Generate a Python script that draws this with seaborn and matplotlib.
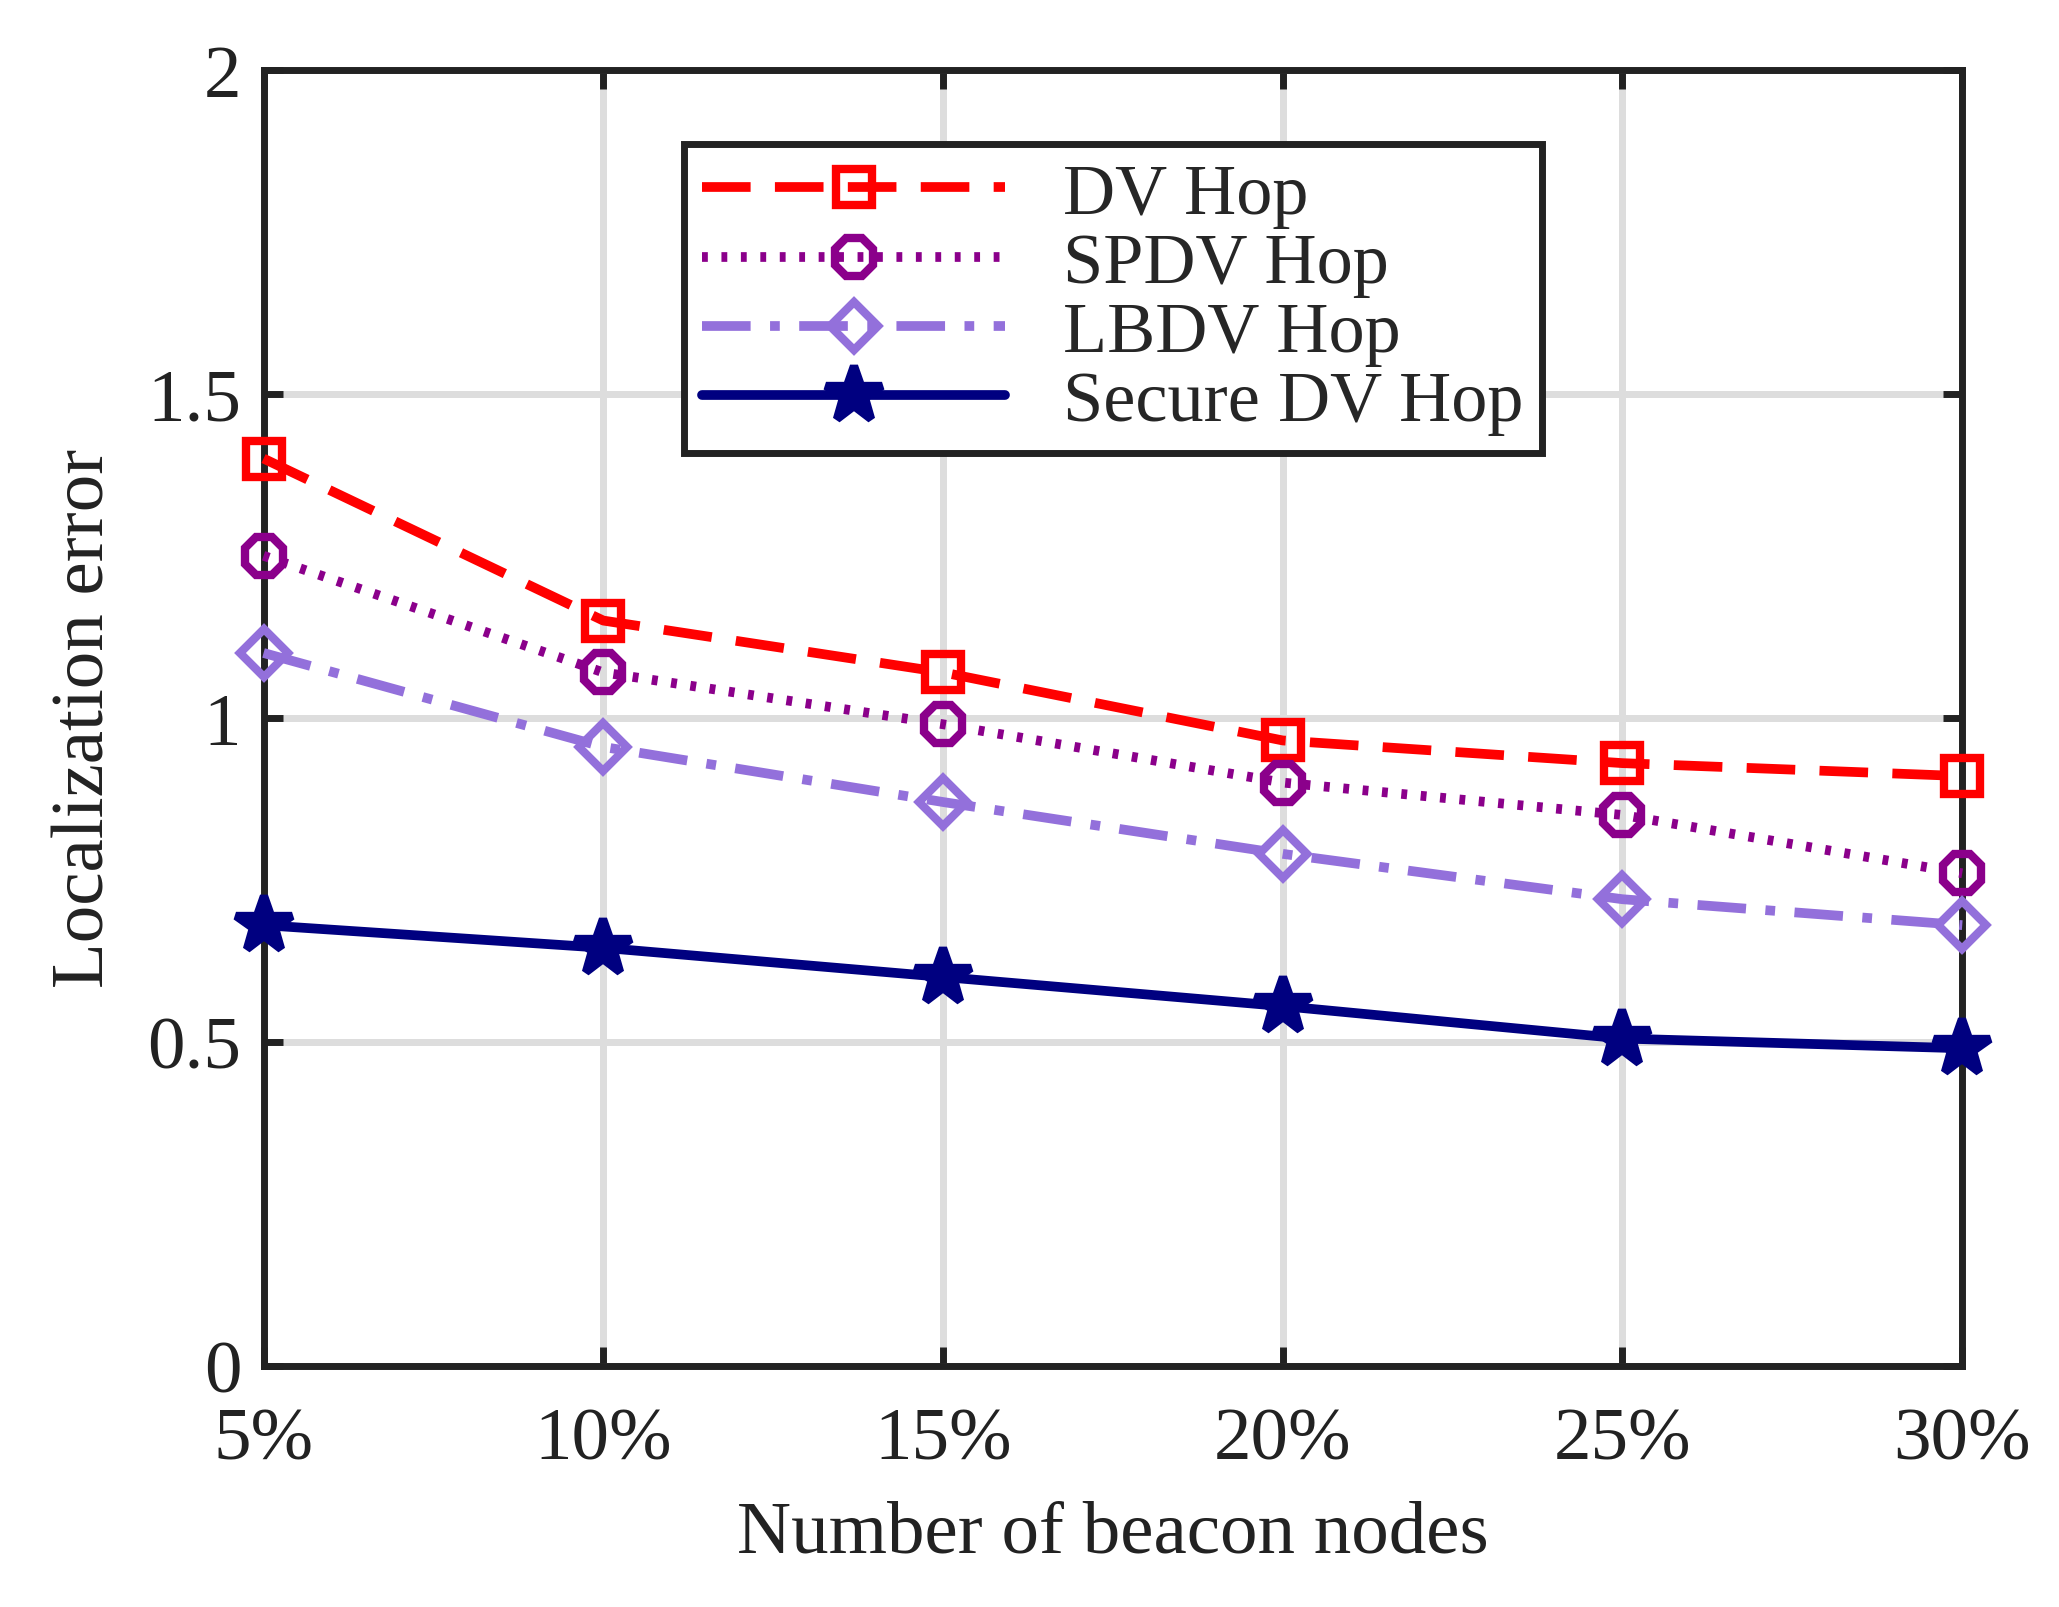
import matplotlib
matplotlib.use("Agg")
import matplotlib.pyplot as plt
import seaborn as sns
import pandas as pd

categories = ["5%", "10%", "15%", "20%", "25%", "30%"]
dv_hop = [1.40, 1.15, 1.07, 0.965, 0.93, 0.91]
spdv_hop = [1.25, 1.07, 0.99, 0.90, 0.85, 0.76]
lbdv_hop = [1.10, 0.955, 0.87, 0.79, 0.72, 0.68]
secure_dv_hop = [0.68, 0.645, 0.60, 0.555, 0.505, 0.49]

series = {"DV Hop": dv_hop, "SPDV Hop": spdv_hop, "LBDV Hop": lbdv_hop, "Secure DV Hop": secure_dv_hop}
styles = {
    "DV Hop": dict(color="#ff0000", ls=(0, (5, 2.5)), marker="s", ms=26),
    "SPDV Hop": dict(color="#8b008b", ls=(0, (0.6, 1.4)), marker="8", ms=30),
    "LBDV Hop": dict(color="#9370db", ls=(0, (5, 2, 1, 2)), marker="D", ms=24),
    "Secure DV Hop": dict(color="#000080", ls="-", marker="*", ms=42),
}

sns.set_style("ticks")
plt.rcParams["font.family"] = "Liberation Serif"
fig = plt.figure(figsize=(20.59, 16.08), dpi=100)
ax = fig.add_axes([0.128, 0.150, 0.825, 0.806])
x = list(range(len(categories)))
for name, vals in series.items():
    st = styles[name]
    df = pd.DataFrame({"x": x, "y": vals})
    filled = name == "Secure DV Hop"
    sns.lineplot(data=df, x="x", y="y", ax=ax, color=st["color"], linestyle=st["ls"],
                 linewidth=7, marker=st["marker"], markersize=st["ms"],
                 markerfacecolor=st["color"] if filled else "none",
                 markeredgecolor=st["color"], markeredgewidth=6, label=name, clip_on=False, zorder=3)
ax.set_xlim(0, 5)
ax.set_ylim(0, 2)
ax.set_xticks(x)
ax.set_xticklabels(categories)
ax.set_yticks([0, 0.5, 1, 1.5, 2])
ax.set_yticklabels(["0", "0.5", "1", "1.5", "2"])
ax.grid(True, color="#dddddd", linewidth=5)
ax.set_axisbelow(True)
for s in ax.spines.values():
    s.set_linewidth(5); s.set_color("#222222"); s.set_zorder(2)
ax.tick_params(axis="x", pad=30)
ax.tick_params(axis="y", pad=16)
ax.tick_params(labelsize=54, width=5, length=14, direction="in", top=True, right=True, colors="#222222")
ax.set_xlabel("Number of beacon nodes", fontsize=54, color="#222222", labelpad=18)
ax.set_ylabel("Localization error", fontsize=54, color="#222222", labelpad=20)
leg = ax.legend(loc="upper center", bbox_to_anchor=(0.5, 0.965), fontsize=52, fancybox=False,
                edgecolor="#222222", framealpha=1, handlelength=4.2, borderaxespad=0.4,
                labelspacing=0.05, borderpad=0.25)
leg.get_frame().set_linewidth(5)
fig.savefig("out.png", dpi=100)
